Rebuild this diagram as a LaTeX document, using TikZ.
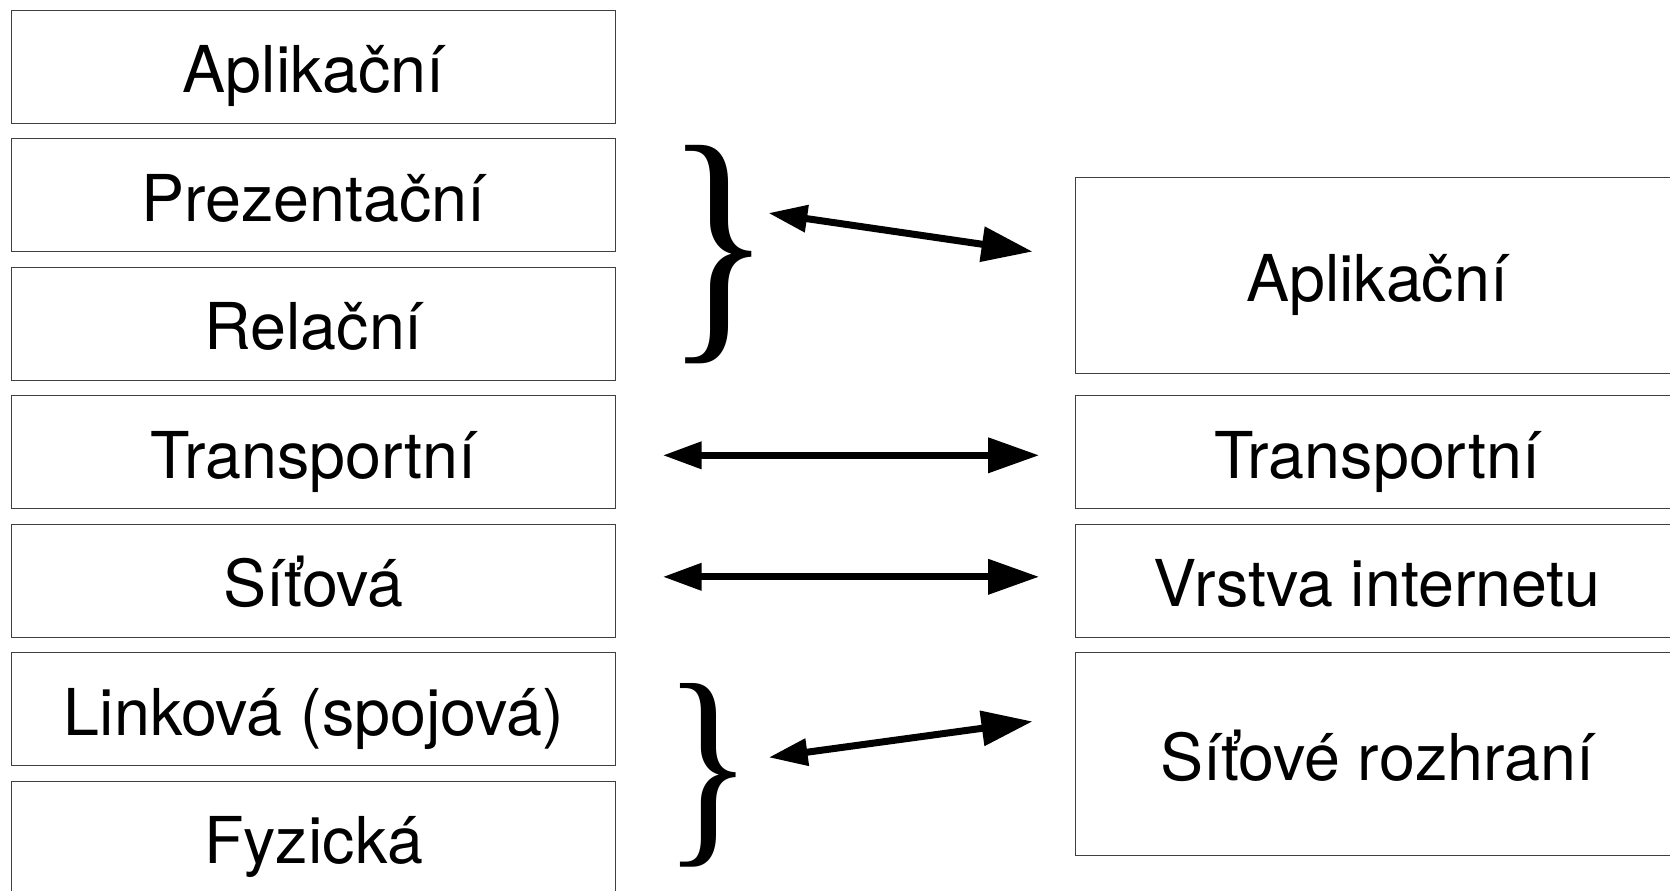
\documentclass[tikz,border=0pt]{standalone}
\usepackage{fontspec}
\setmainfont{TeX Gyre Heros}
\newfontfamily\bracefont{Liberation Serif}
\usetikzlibrary{positioning, arrows.meta}
\tikzstyle{layer} = [rectangle, minimum width=302pt, minimum height=56.5pt, text centered, text height=31pt, text depth=5.1pt, outer sep=0pt, draw=black!75, line width=0.6pt]
\tikzstyle{brace} = [inner sep=0pt, outer sep=0pt]
\tikzstyle{arrow} = [line width=3.5pt, {Triangle[length=19.5pt,width=13pt]}-{Triangle[length=25.5pt,width=17pt]}]

\begin{document}
\begin{tikzpicture}[node distance=7.75pt, font=\fontsize{32.3}{38}\selectfont]

    \useasboundingbox (0,0) rectangle (835pt,-445pt);

    % ISO/OSI
    \node (app) [layer] at (156.85pt,-33.3pt) {Aplikační};
    \node (pres) [layer, below=of app] {Prezentační};
    \node (sess) [layer, below=of pres] {Relační};
    \node (trans) [layer, below=of sess] {Transportní};
    \node (net) [layer, below=of trans] {Síťová};
    \node (link) [layer, below=of net] {Linková (spojová)};
    \node (phys) [layer, below=of link] {Fyzická};

    % TCP/IP
    \node (tcptrans) [layer, right=229.7pt of trans] {Transportní};
    \node (tcpapp) [layer, minimum height=98pt, above=11pt of tcptrans] {Aplikační};
    \node (tcpnet) [layer, below=of tcptrans] {Vrstva internetu};
    \node (tcplink) [layer, minimum height=101.5pt, below=of tcpnet] {Síťové rozhraní};

    \node (upbrace) [brace, font=\bracefont\fontsize{132}{132}\selectfont] at (359.5pt,-127.1pt) {\scalebox{0.84}[1]{\}}};
    \node (lowbrace) [brace, font=\bracefont\fontsize{111}{111}\selectfont] at (354pt,-387.5pt) {\scalebox{0.84}[1]{\}}};

    \draw [arrow, shorten <=-2pt, shorten >=21.5pt] ([yshift=20.3pt]upbrace.east) -- ([yshift=8.9pt]tcpapp.west);
    \draw [arrow, shorten <=23.5pt, shorten >=18pt] ([yshift=-1.6pt]trans.east) -- ([yshift=-1.6pt]tcptrans.west);
    \draw [arrow, shorten <=23.5pt, shorten >=18pt] ([yshift=1.9pt]net.east) -- ([yshift=1.9pt]tcpnet.west);
    \draw [arrow, shorten <=8pt, shorten >=21.5pt] ([yshift=7.7pt]lowbrace.east) -- ([yshift=19.25pt]tcplink.west);

\end{tikzpicture}
\end{document}
